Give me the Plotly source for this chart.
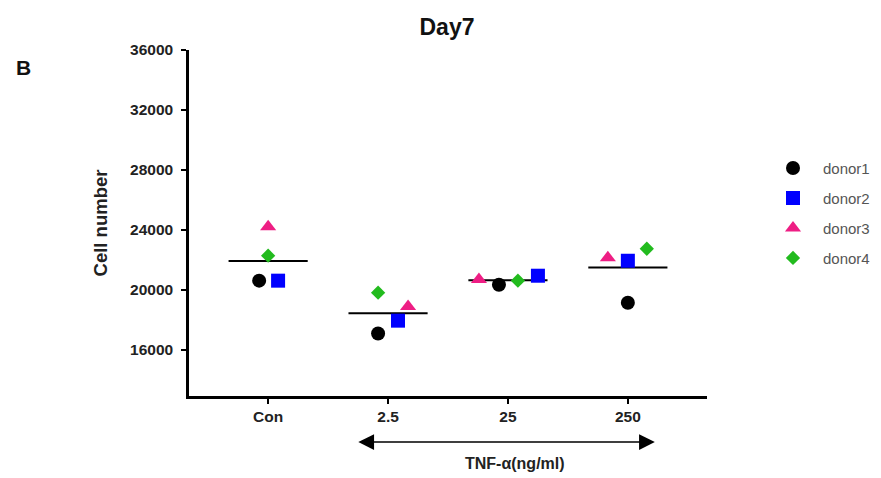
import plotly.graph_objects as go

categories = ["Con", "2.5", "25", "250"]
donors = ["donor1", "donor2", "donor3", "donor4"]
values = {
    "donor1": [20600, 17070, 20330, 19130],
    "donor2": [20600, 17930, 20930, 21930],
    "donor3": [24200, 18870, 20670, 22130],
    "donor4": [22270, 19800, 20600, 22730],
}
# horizontal spread of each point within its category (category units)
spread = {
    "donor1": [-0.075, -0.083, -0.075, 0.0],
    "donor2": [0.083, 0.083, 0.25, 0.0],
    "donor3": [0.0, 0.167, -0.242, -0.167],
    "donor4": [0.0, -0.083, 0.083, 0.158],
}
yticks = [16000, 20000, 24000, 28000, 32000, 36000]

symbols = {"donor1": "circle", "donor2": "square", "donor3": "triangle-up", "donor4": "diamond"}
colors = {"donor1": "#000000", "donor2": "#0000ff", "donor3": "#ee1e84", "donor4": "#22bb1e"}
sizes = {"donor1": 14, "donor2": 14, "donor3": 14, "donor4": 11}

FONT = "Liberation Sans, Arial, sans-serif"
# page body adds an 8px offset; plot area on screen: x 188..707, y 50..396
W, H = 900, 478
PL, PT, PW, PH = 181, 42, 518, 346
fig = go.Figure()

# mean lines
for i, c in enumerate(categories):
    m = sum(values[d][i] for d in donors) / len(donors)
    fig.add_trace(go.Scatter(x=[i - 0.33, i + 0.33], y=[m, m], mode="lines",
                             line=dict(color="black", width=2), showlegend=False,
                             hoverinfo="skip"))

for d in donors:
    xs = [i + spread[d][i] for i in range(len(categories))]
    fig.add_trace(go.Scatter(x=xs, y=values[d], mode="markers", name=d,
                             legendgroup=d,
                             marker=dict(symbol=symbols[d], color=colors[d], size=sizes[d],
                                         line=dict(width=0))))

fig.update_layout(
    width=W, height=H,
    margin=dict(l=PL, r=W - PL - PW, t=PT, b=H - PT - PH, autoexpand=False),
    plot_bgcolor="white", paper_bgcolor="white",
    font=dict(family=FONT, color="#222"),
    title=dict(text="<b>Day7</b>", x=(447 - 8) / W, xanchor="center", y=1 - (27 - 8) / H,
               yanchor="middle", font=dict(size=23, color="#111")),
    xaxis=dict(range=[-0.66, 3.66], tickmode="array", tickvals=list(range(len(categories))),
               ticktext=categories, showline=True, linecolor="black", linewidth=2.5,
               ticks="outside", ticklen=5, tickwidth=2, tickcolor="black",
               showgrid=False, zeroline=False,
               tickfont=dict(size=15.5, weight="bold", color="#222")),
    yaxis=dict(range=[12900, 36000], tickmode="array", tickvals=yticks,
               ticktext=[str(v) for v in yticks], showline=True, linecolor="black",
               linewidth=2.5, ticks="outside", ticklen=5, tickwidth=2, tickcolor="black",
               showgrid=False, zeroline=False, ticklabelstandoff=5,
               tickfont=dict(size=15.5, weight="bold", color="#222"),
               title=dict(text="Cell number", font=dict(size=18.5, weight="bold", color="#222"),
                          standoff=18)),
    legend=dict(x=(763 - 8 - PL) / PW, y=0.706, xanchor="left", yanchor="top", tracegroupgap=7.5,
                font=dict(size=15, color="#555"), itemwidth=50, bgcolor="rgba(0,0,0,0)"),
    showlegend=True,
)

# arrow below the axis spanning the TNF-α doses
fig.add_annotation(x=3.225, y=-0.133, xref="x", yref="paper", ax=-298, ay=0,
                   text="", showarrow=True, arrowhead=2, arrowside="end+start",
                   arrowsize=2.1, arrowwidth=1.5, arrowcolor="black")
fig.add_annotation(x=2.055, y=-0.194, xref="x", yref="paper", text="TNF-α(ng/ml)",
                   showarrow=False, font=dict(size=16, weight="bold", color="#222"),
                   yanchor="middle")
fig.add_annotation(x=(23 - 8 - PL) / PW, y=(396 - 67) / PH, xref="paper", yref="paper",
                   text="<b>B</b>", showarrow=False, font=dict(size=21, color="#111"),
                   xanchor="center", yanchor="middle")

fig.write_html("out.html")
